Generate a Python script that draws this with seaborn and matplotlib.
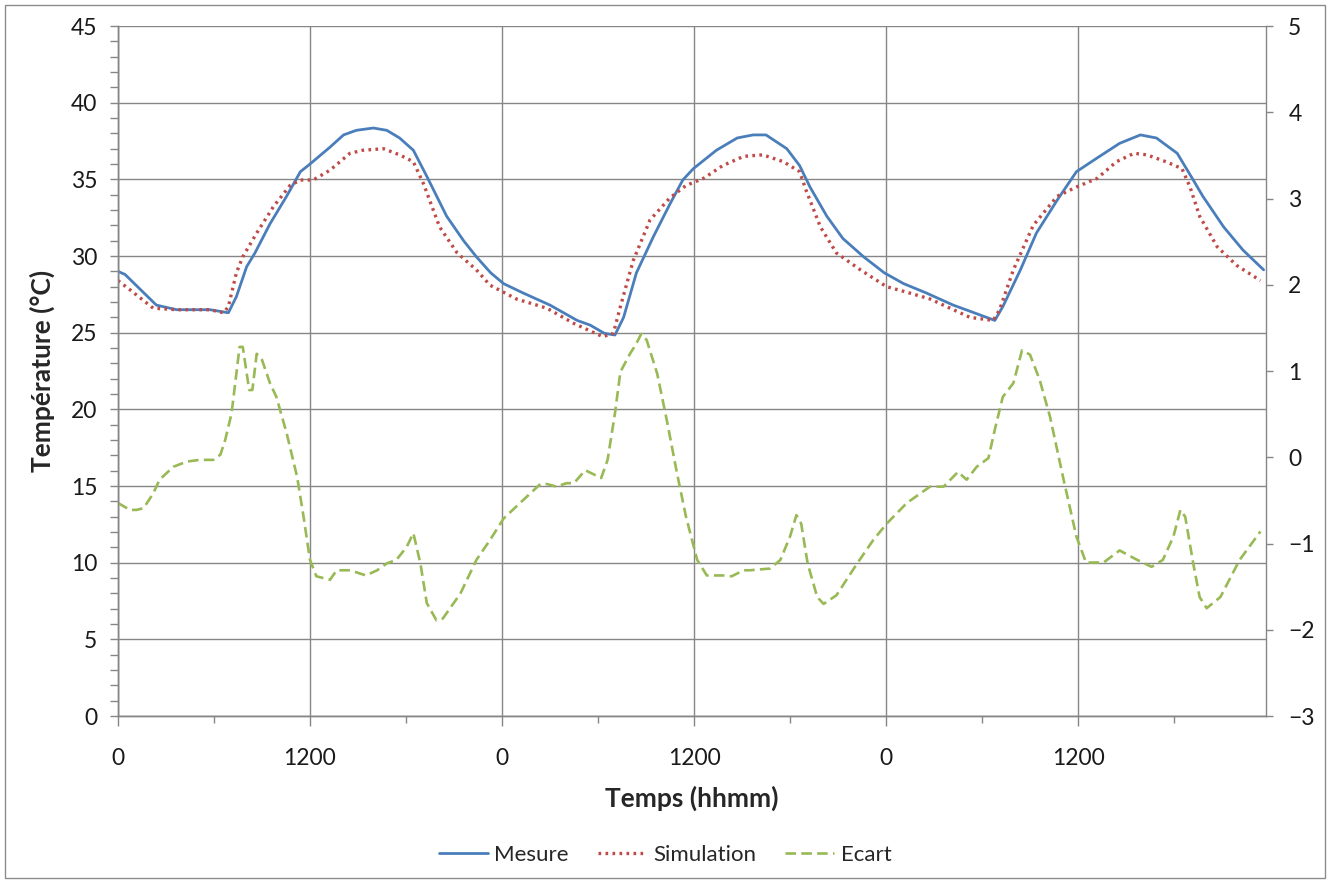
import matplotlib
matplotlib.use("Agg")
import matplotlib.pyplot as plt
from matplotlib.patches import Rectangle
from matplotlib.ticker import MultipleLocator, FixedLocator, FixedFormatter
import pandas as pd
import seaborn as sns

# Mesure (blue), time in hours from start
mesure_h = [0, 0.44, 2.4, 3.67, 5.75, 6.9, 7.4, 8.04, 8.56, 9.5,
            10.54, 11.4, 12, 13.25, 14.1, 14.9, 15.96, 16.8, 17.6, 18.46,
            19.3, 20.54, 21.6, 22.4, 23.3, 24.1, 25.3, 27, 28.7, 29.5,
            30.4, 31.06, 31.6, 32.4, 33.46, 34.5, 35.3, 35.96, 37.4, 38.7,
            39.7, 40.5, 41.8, 42.6, 43.25, 44.3, 45.3, 46.6, 47.9, 49.1,
            50.5, 52.2, 53.25, 54.8, 55.3, 56.4, 57.4, 58.7, 59.9, 61.2,
            62.6, 63.9, 64.9, 66.2, 67.2, 67.8, 69.1, 70.3, 71.6]
mesure_t = [29.0, 28.8, 26.8, 26.5, 26.5, 26.3, 27.35, 29.3, 30.2, 32.1,
            33.9, 35.5, 36.0, 37.1, 37.9, 38.2, 38.35, 38.2, 37.7, 36.9,
            35.2, 32.6, 31.0, 29.95, 28.9, 28.2, 27.6, 26.8, 25.8, 25.5,
            24.96, 24.85, 26.0, 28.9, 31.26, 33.4, 34.96, 35.7, 36.9, 37.7,
            37.9, 37.9, 37.0, 35.9, 34.5, 32.6, 31.15, 29.95, 28.9, 28.2,
            27.6, 26.8, 26.4, 25.8, 26.7, 29.1, 31.5, 33.65, 35.5, 36.4,
            37.35, 37.9, 37.7, 36.7, 34.96, 33.9, 31.9, 30.4, 29.1]

# Simulation (red dotted)
sim_h = [0, 0.75, 2.2, 3.67, 5.75, 6.6, 6.9, 7.4, 7.8, 8.67,
         9.7, 10.75, 11.4, 12.2, 13.25, 14.5, 15.3, 16.6, 17.6, 18.46,
         19.1, 20.1, 21.2, 22.4, 23.25, 24.9, 26.8, 28.5, 30.3, 30.96,
         31.4, 32.2, 33.25, 34.5, 35.5, 36.6, 37.8, 39.1, 40.3, 41.6,
         42.6, 43.0, 43.9, 44.9, 46.4, 48.04, 49.1, 50.75, 52, 53.25,
         54.7, 55.1, 55.96, 57.2, 58.7, 59.9, 61.2, 62.4, 63.5, 64.3,
         65.5, 66.5, 67, 67.6, 68.7, 69.9, 71.4]
sim_t = [28.4, 27.8, 26.6, 26.5, 26.5, 26.3, 26.7, 28.9, 29.95, 31.5,
         33.2, 34.6, 34.96, 34.96, 35.6, 36.7, 36.9, 37.0, 36.6, 36.15,
         34.7, 31.9, 30.2, 29.1, 28.1, 27.2, 26.6, 25.6, 24.74, 24.96,
         26.7, 29.7, 32.35, 33.8, 34.6, 35.07, 35.9, 36.5, 36.6, 36.15,
         35.5, 34.3, 31.9, 30.2, 29.1, 28.0, 27.7, 27.2, 26.6, 26.0,
         25.8, 26.5, 29.1, 32.0, 33.9, 34.5, 35.07, 36.15, 36.7, 36.6,
         36.15, 35.7, 34.5, 32.6, 30.6, 29.4, 28.4]

# Ecart (green dashed, right axis)
ecart_h = [0, 0.75, 1.17, 1.6, 2.2, 2.6, 3.46, 4.3, 5.1, 5.96,
           6.4, 6.7, 7.1, 7.6, 7.8, 8.2, 8.4, 8.67, 9.0, 9.5,
           9.9, 10.54, 11.2, 11.6, 12, 12.4, 13.25, 13.67, 14.5, 15.5,
           16.2, 16.8, 17.4, 18.04, 18.46, 18.9, 19.3, 19.9, 20.3, 21.4,
           22.4, 23.25, 24.1, 25.3, 26.4, 26.8, 27.4, 28.04, 28.5, 29.2,
           30.2, 30.6, 31.06, 31.4, 32, 32.4, 32.7, 33.04, 33.7, 34.3,
           34.9, 35.5, 36.2, 36.8, 37.8, 38.35, 39.1, 39.5, 40.75, 41.4,
           42, 42.4, 42.7, 43.1, 43.7, 44.1, 44.9, 46.2, 47.2, 48.04,
           49.3, 50.75, 51.6, 52.5, 53.04, 53.67, 54.4, 54.8, 55.3, 55.96,
           56.5, 57, 57.6, 58.25, 59.1, 59.9, 60.5, 61.6, 62.6, 63.7,
           64.6, 65.3, 65.96, 66.4, 66.7, 67.2, 67.6, 68.04, 68.9, 70.1,
           71.4]
ecart_v = [-0.53, -0.61, -0.61, -0.59, -0.42, -0.26, -0.11, -0.05, -0.03, -0.03,
           0.03, 0.2, 0.51, 1.28, 1.28, 0.78, 0.78, 1.2, 1.13, 0.86,
           0.7, 0.28, -0.23, -0.69, -1.19, -1.38, -1.42, -1.31, -1.31, -1.37,
           -1.31, -1.23, -1.19, -1.04, -0.88, -1.23, -1.69, -1.89, -1.87, -1.58,
           -1.19, -0.96, -0.71, -0.5, -0.31, -0.31, -0.34, -0.3, -0.3, -0.15,
           -0.24, -0.03, 0.51, 0.99, 1.2, 1.32, 1.43, 1.36, 0.97, 0.43,
           -0.15, -0.69, -1.19, -1.37, -1.37, -1.38, -1.31, -1.31, -1.29, -1.19,
           -0.92, -0.67, -0.77, -1.23, -1.62, -1.7, -1.6, -1.23, -0.96, -0.77,
           -0.53, -0.34, -0.34, -0.17, -0.26, -0.11, -0.01, 0.32, 0.7, 0.86,
           1.24, 1.19, 0.9, 0.47, -0.26, -0.92, -1.22, -1.22, -1.08, -1.19,
           -1.27, -1.19, -0.92, -0.61, -0.69, -1.23, -1.62, -1.75, -1.62, -1.19,
           -0.86]

x_ticks = [0, 12, 24, 36, 48, 60]
x_labels = ["0", "1200", "0", "1200", "0", "1200"]

sns.set_style("white")
plt.rcParams["font.family"] = ["Lato", "DejaVu Sans"]

grey = "#868686"
c_mes = "#4A7EBB"
c_sim = "#BE4B48"
c_ec = "#98B954"

fig = plt.figure(figsize=(13.3, 8.83), dpi=100)
ax = fig.add_axes([0.0887, 0.1891, 0.8632, 0.7814])
ax2 = ax.twinx()

df_mes = pd.DataFrame({"h": mesure_h, "v": mesure_t})
df_sim = pd.DataFrame({"h": sim_h, "v": sim_t})
df_ec = pd.DataFrame({"h": ecart_h, "v": ecart_v})

sns.lineplot(data=df_mes, x="h", y="v", ax=ax, color=c_mes, lw=2.0, label="Mesure")
sns.lineplot(data=df_sim, x="h", y="v", ax=ax, color=c_sim, lw=2.4,
             linestyle=(0, (0.8, 1.3)), label="Simulation")
sns.lineplot(data=df_ec, x="h", y="v", ax=ax2, color=c_ec, lw=1.9,
             linestyle=(0, (4, 2)), label="Ecart")

ax.set_xlim(0, 71.75)
ax.set_ylim(0, 45)
ax2.set_ylim(-3, 5)

ax.xaxis.set_major_locator(FixedLocator(x_ticks + [72]))
ax.xaxis.set_major_formatter(FixedFormatter(x_labels + [""]))
ax.xaxis.set_minor_locator(FixedLocator([6, 18, 30, 42, 54, 66]))
ax.yaxis.set_major_locator(MultipleLocator(5))
ax.yaxis.set_minor_locator(MultipleLocator(1))
ax2.yaxis.set_major_locator(MultipleLocator(1))

ax.grid(True, which="major", color=grey, lw=1)
ax2.grid(False)
for a in (ax, ax2):
    for s in a.spines.values():
        s.set_color(grey)
        s.set_linewidth(1)
ax.spines["top"].set_visible(False)
ax2.spines["top"].set_visible(False)
ax.spines["right"].set_visible(False)

ax.tick_params(axis="x", which="major", length=7, width=1, color=grey, pad=16,
               labelsize=16.5, labelcolor="#1a1a1a", bottom=True)
ax.tick_params(axis="x", which="minor", length=5, width=1, color=grey, bottom=True)
ax.tick_params(axis="y", which="both", length=6, width=1, color=grey, pad=9,
               labelsize=16.5, labelcolor="#1a1a1a", left=True)
ax2.tick_params(axis="y", length=5, width=1, color=grey, pad=11,
                labelsize=16.5, labelcolor="#1a1a1a", right=True)

ax.set_xlabel("Temps (hhmm)", fontsize=19, fontweight="bold", labelpad=12)
ax.set_ylabel("Température (°C)", fontsize=19, fontweight="bold", labelpad=11)
ax2.set_ylabel("")

h1, l1 = ax.get_legend_handles_labels()
h2, l2 = ax2.get_legend_handles_labels()
ax.get_legend().remove()
ax2.get_legend().remove()
fig.legend(h1 + h2, l1 + l2, loc="center", bbox_to_anchor=(0.5, 0.032), ncol=3,
           frameon=False, fontsize=16, handlelength=2.2, handletextpad=0.3,
           columnspacing=1.3)

fig.patches.append(Rectangle((5 / 1330, 5 / 883), 1320 / 1330, 873 / 883,
                             transform=fig.transFigure, fill=False,
                             ec="#8c8c8c", lw=1))

fig.savefig("out.png", dpi=100)
